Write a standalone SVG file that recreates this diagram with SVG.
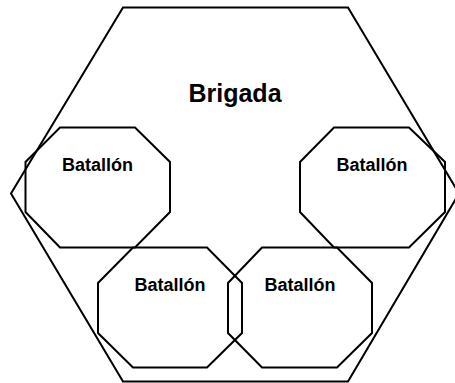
<svg xmlns="http://www.w3.org/2000/svg" width="455" height="383" viewBox="0 0 455 383">
<style>
.s{fill:none;stroke:#000;stroke-width:2;stroke-linejoin:miter}
.t{font-family:"Liberation Sans",Arial,sans-serif;font-weight:bold;fill:#000;text-anchor:middle}
.b{font-size:18px}
.h{font-size:25px}
</style>
<rect width="455" height="383" fill="#fff"/>
<g id="brigada">
<polygon class="s" points="123,7.5 348,7.5 459,193.5 348,381.5 123,381.5 11,193.5"/>
<text class="t h" x="235" y="101.5">Brigada</text>
</g>
<g id="batallon1">
<polygon class="s" points="60,127.5 135,127.5 170,162 170,212 135,247.5 60,247.5 25.5,212 25.5,162"/>
<text class="t b" x="97.5" y="171">Batallón</text>
</g>
<g id="batallon2">
<polygon class="s" points="334,127.5 409,127.5 445,162 445,212 409,247.5 334,247.5 300,212 300,162"/>
<text class="t b" x="372" y="171">Batallón</text>
</g>
<g id="batallon3">
<polygon class="s" points="133,247.5 207,247.5 242,283 242,333 207,367.5 133,367.5 98,333 98,283"/>
<text class="t b" x="170" y="291">Batallón</text>
</g>
<g id="batallon4">
<polygon class="s" points="262,247.5 337,247.5 372,283 372,333 337,367.5 262,367.5 228,333 228,283"/>
<text class="t b" x="300" y="291">Batallón</text>
</g>
<g id="connectors"></g>
</svg>
